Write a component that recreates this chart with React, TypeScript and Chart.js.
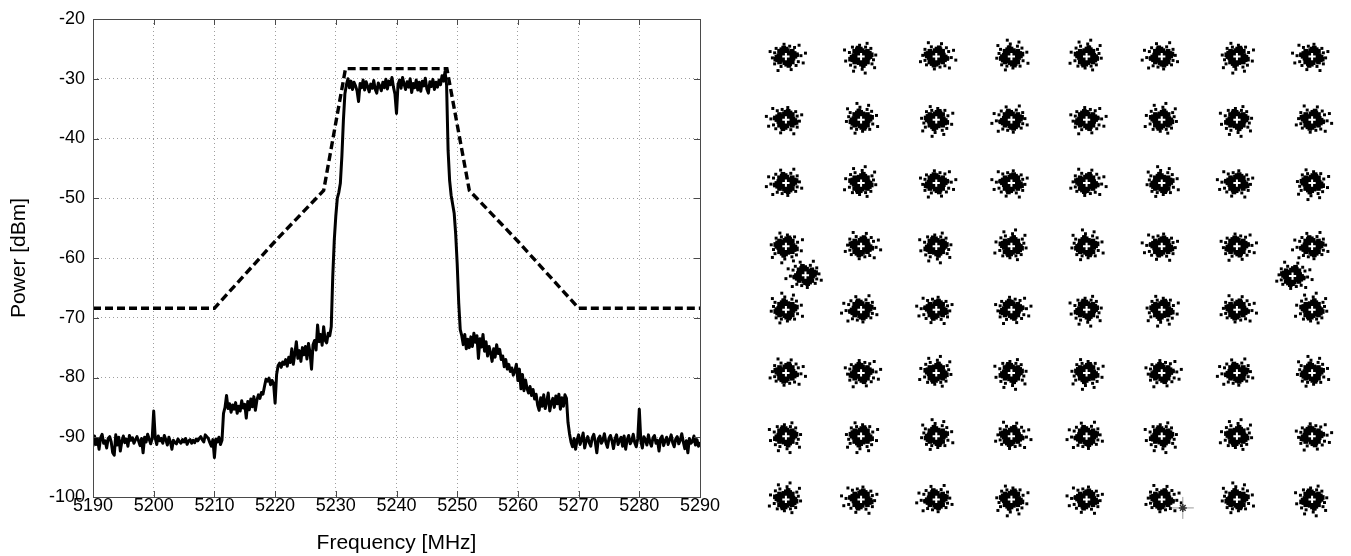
import React, { useEffect, useRef } from "react";
import { Chart, registerables } from "chart.js";
Chart.register(...registerables);

// ---------- Spectrum panel data ----------
const FREQ_START = 5190;
const FREQ_STEP = 0.25;
const POWER: number[] = [
  -91.5,-89.8,-91.2,-90.3,-92.0,-90.1,-89.5,-91.0,-90.6,-91.8,
  -90.2,-89.9,-90.8,-92.6,-93.0,-89.6,-91.3,-90.0,-92.3,-90.7,
  -89.8,-90.9,-90.3,-91.5,-89.7,-90.5,-90.1,-91.0,-90.4,-89.9,
  -90.6,-91.4,-90.2,-92.6,-90.0,-90.8,-89.5,-90.3,-91.1,-90.2,
  -85.6,-90.1,-91.2,-89.8,-90.6,-90.2,-91.0,-89.7,-90.4,-91.3,
  -90.0,-90.8,-92.0,-90.5,-90.9,-91.1,-90.3,-90.7,-91.0,-90.4,
  -90.8,-90.2,-91.2,-90.6,-90.4,-91.0,-90.5,-90.9,-90.3,-90.6,
  -90.2,-89.9,-90.4,-90.8,-89.6,-89.9,-90.2,-90.9,-91.5,-90.4,
  -93.4,-90.3,-90.8,-90.0,-91.2,-90.5,-86.0,-85.0,-83.0,-85.2,
  -84.4,-85.8,-84.6,-85.3,-84.2,-86.0,-84.8,-85.6,-83.9,-85.1,
  -84.5,-86.8,-84.0,-85.4,-83.6,-84.9,-83.2,-85.5,-83.8,-82.9,
  -83.5,-82.5,-82.8,-81.5,-80.3,-80.6,-80.1,-81.2,-80.5,-81.0,
  -84.3,-79.5,-78.0,-77.6,-78.3,-77.4,-77.8,-77.0,-78.1,-76.6,
  -77.5,-75.2,-77.8,-76.0,-74.0,-76.8,-75.5,-77.3,-75.0,-76.2,
  -74.8,-76.9,-74.3,-75.8,-78.6,-74.5,-73.8,-75.4,-71.2,-74.0,
  -72.8,-74.6,-71.5,-73.8,-74.2,-72.6,-73.0,-71.5,-63.0,-57.0,
  -53.0,-50.0,-49.0,-47.5,-43.0,-37.0,-32.5,-31.0,-30.0,-31.5,
  -30.4,-31.8,-30.6,-31.2,-32.0,-33.8,-30.8,-31.5,-30.2,-31.9,
  -30.5,-31.3,-32.2,-30.9,-31.6,-30.3,-31.8,-32.4,-30.7,-31.2,
  -32.0,-30.6,-31.5,-30.1,-31.7,-30.4,-31.0,-29.8,-31.4,-32.6,
  -35.8,-31.0,-30.2,-31.6,-29.8,-30.9,-31.8,-30.5,-31.4,-30.0,
  -32.3,-30.8,-31.5,-30.2,-31.9,-30.6,-32.1,-30.4,-31.2,-29.9,
  -31.7,-32.4,-30.5,-31.3,-30.1,-31.8,-30.6,-31.4,-30.2,-31.0,
  -29.5,-30.4,-28.8,-31.0,-42.0,-47.0,-49.5,-51.0,-52.5,-56.0,
  -61.0,-67.5,-72.0,-73.0,-74.5,-72.8,-75.2,-73.6,-75.0,-73.2,
  -74.8,-72.6,-74.1,-73.0,-76.8,-73.5,-74.9,-72.8,-75.6,-74.0,
  -76.4,-74.8,-75.9,-77.3,-75.2,-76.6,-74.5,-76.0,-75.3,-77.0,
  -76.4,-78.2,-77.0,-78.6,-77.8,-79.0,-78.4,-79.6,-78.9,-77.8,
  -80.5,-78.6,-81.9,-79.5,-82.2,-80.4,-81.8,-82.6,-81.5,-83.0,
  -82.0,-83.6,-82.8,-84.6,-85.5,-83.4,-84.8,-82.9,-85.2,-84.0,
  -82.6,-85.6,-84.2,-83.5,-85.0,-83.1,-84.4,-82.8,-85.3,-83.4,
  -84.8,-82.9,-83.5,-87.5,-89.4,-90.8,-91.6,-90.2,-92.0,-90.5,
  -89.6,-91.2,-90.4,-89.3,-91.8,-90.6,-89.9,-90.9,-91.5,-90.1,
  -89.5,-90.8,-92.6,-90.3,-89.8,-91.0,-90.5,-89.4,-90.9,-91.7,
  -90.2,-89.7,-90.6,-91.9,-90.3,-89.6,-91.2,-90.5,-90.0,-91.5,
  -89.8,-92.0,-90.4,-89.7,-91.1,-90.6,-89.5,-90.9,-91.6,-90.2,
  -85.3,-90.6,-91.8,-89.9,-90.4,-91.3,-89.6,-90.8,-91.5,-90.1,
  -89.7,-91.0,-90.5,-92.3,-90.2,-89.8,-91.4,-90.6,-90.0,-91.2,
  -90.4,-89.6,-90.9,-91.6,-90.3,-89.9,-91.1,-90.5,-89.4,-90.8,
  -91.9,-90.6,-92.6,-90.2,-91.0,-90.7,-89.8,-91.3,-90.4,-91.5,
  -90.8,
];
const MASK_FREQ = [5190, 5210, 5220, 5228, 5231.6, 5248.3, 5252, 5260, 5270, 5290];
const MASK_POWER = [-68.4, -68.4, -57.2, -48.7, -28.3, -28.3, -48.7, -57.2, -68.4, -68.4];
const X_TICKS = [5190, 5200, 5210, 5220, 5230, 5240, 5250, 5260, 5270, 5280, 5290];
const Y_TICKS = [-100, -90, -80, -70, -60, -50, -40, -30, -20];
const X_TITLE = "Frequency [MHz]";
const Y_TITLE = "Power [dBm]";

// ---------- Constellation panel data ----------
const I_LEVELS = [-7, -5, -3, -1, 1, 3, 5, 7];
const Q_LEVELS = [7, 5, 3, 1, -1, -3, -5, -7];
const EXTRA_CENTERS: [number, number][] = [[-6.48, 0.09], [6.48, 0.06]];
const EXTRA_VARIANT = [2, 5];
const MARKER: [number, number][] = [[3.56, -7.27]];
// noise offsets (hundredths of a constellation unit)
const CORE: [number, number][] = [
  [0,0],
  [7,0],[-7,1],[1,7],[-1,-7],[5,5],[-5,5],[5,-5],[-5,-5],
  [13,2],[-13,-2],[2,13],[-2,-13],[10,9],[-9,10],[9,-10],[-10,-9],
  [19,4],[-19,3],[4,19],[-3,-19],[15,12],[-14,13],[13,-14],[-15,-12],[19,-5],[-18,-6],[-6,18],[7,-18],
  [24,1],[-24,-2],[0,24],[2,-24],[17,17],[-17,17],[17,-17],[-17,-17],[22,10],[-11,22],[-22,-10],[10,-22],
  [28,6],[-27,-8],[8,-28],[-6,27],
];
const OUTLIERS: [number, number][] = [
  [31,5],[-30,12],[10,33],[-13,-31],[33,-16],[-36,-4],[23,29],[-26,26],[27,-28],
  [-30,-23],[40,3],[-42,16],[14,-41],[-5,39],[46,-20],[35,36],[-21,-44],[52,11],
];
const VARIANT = [
  [0, 3, 5, 1, 6, 2, 7, 4],
  [4, 1, 7, 2, 0, 6, 3, 5],
  [2, 6, 0, 4, 5, 1, 4, 7],
  [7, 5, 3, 6, 1, 4, 0, 2],
  [1, 2, 4, 0, 3, 7, 5, 6],
  [5, 0, 6, 3, 7, 0, 2, 1],
  [3, 7, 1, 5, 2, 3, 6, 0],
  [6, 4, 2, 7, 4, 5, 1, 3],
];

function transform(v: number, dx: number, dy: number): [number, number] {
  switch (v) {
    case 1: return [-dy, dx];
    case 2: return [-dx, -dy];
    case 3: return [dy, -dx];
    case 4: return [-dx, dy];
    case 5: return [dx, -dy];
    case 6: return [dy, dx];
    case 7: return [-dy, -dx];
    default: return [dx, dy];
  }
}

const FONT = "'Liberation Sans', Arial, Helvetica, sans-serif";

const boxPlugin = {
  id: "matlabBox",
  afterDraw(chart: any) {
    const { ctx, chartArea: a, scales } = chart;
    ctx.save();
    ctx.strokeStyle = "#4a4a4a";
    ctx.lineWidth = 1;
    ctx.strokeRect(a.left + 0.5, a.top + 0.5, a.right - a.left, a.bottom - a.top);
    ctx.beginPath();
    X_TICKS.forEach((v) => {
      const x = Math.round(scales.x.getPixelForValue(v)) + 0.5;
      ctx.moveTo(x, a.bottom); ctx.lineTo(x, a.bottom - 6);
      ctx.moveTo(x, a.top); ctx.lineTo(x, a.top + 6);
    });
    Y_TICKS.forEach((v) => {
      const y = Math.round(scales.y.getPixelForValue(v)) + 0.5;
      ctx.moveTo(a.left, y); ctx.lineTo(a.left + 6, y);
      ctx.moveTo(a.right, y); ctx.lineTo(a.right - 6, y);
    });
    ctx.stroke();
    ctx.restore();
  },
};

export default function App() {
  const specRef = useRef<HTMLCanvasElement>(null);
  const constRef = useRef<HTMLCanvasElement>(null);

  useEffect(() => {
    Chart.defaults.font.family = FONT;
    const spectrum = POWER.map((p, i) => ({ x: FREQ_START + i * FREQ_STEP, y: p }));
    const mask = MASK_FREQ.map((f, i) => ({ x: f, y: MASK_POWER[i] }));

    const c1 = new Chart(specRef.current!, {
      type: "line",
      data: {
        datasets: [
          {
            data: mask,
            borderColor: "#000",
            borderWidth: 3.4,
            borderDash: [8, 4],
            pointRadius: 0,
            tension: 0,
            fill: false,
          },
          {
            data: spectrum,
            borderColor: "#000",
            borderWidth: 3,
            borderJoinStyle: "round",
            pointRadius: 0,
            tension: 0,
            fill: false,
          },
        ],
      },
      options: {
        animation: false,
        responsive: false,
        events: [],
        layout: { padding: { left: 0, top: 19, right: 30, bottom: 0 } },
        plugins: { legend: { display: false }, tooltip: { enabled: false } },
        scales: {
          x: {
            type: "linear",
            min: 5190,
            max: 5290,
            afterFit: (s: any) => { s.height = 59; },
            afterBuildTicks: (s: any) => { s.ticks = X_TICKS.map((v) => ({ value: v })); },
            ticks: {
              autoSkip: false,
              maxRotation: 0,
              padding: 0,
              color: "#000",
              font: { size: 18, lineHeight: 1 },
              callback: (v: any) => String(v),
            },
            grid: { color: "rgba(0,0,0,0.38)", lineWidth: 1, drawTicks: false },
            border: { display: false, dash: [1, 3] },
            title: {
              display: true,
              text: X_TITLE,
              color: "#000",
              font: { size: 21 },
              padding: { top: 0, bottom: 0 },
            },
          },
          y: {
            type: "linear",
            min: -100,
            max: -20,
            afterFit: (s: any) => { s.width = 93; },
            afterBuildTicks: (s: any) => { s.ticks = Y_TICKS.map((v) => ({ value: v })); },
            ticks: {
              padding: 8,
              color: "#000",
              font: { size: 18 },
              callback: (v: any) => String(v),
            },
            grid: { color: "rgba(0,0,0,0.38)", lineWidth: 1, drawTicks: false },
            border: { display: false, dash: [1, 3] },
            title: {
              display: true,
              text: Y_TITLE,
              color: "#000",
              font: { size: 21 },
              padding: { top: 7, bottom: 0 },
            },
          },
        },
      },
      plugins: [boxPlugin],
    });

    // constellation
    const centers: { x: number; y: number; v: number }[] = [];
    Q_LEVELS.forEach((q, r) => I_LEVELS.forEach((ii, c) => centers.push({ x: ii, y: q, v: VARIANT[r][c] })));
    EXTRA_CENTERS.forEach(([x, y], k) => centers.push({ x, y, v: EXTRA_VARIANT[k] }));

    const corePts: { x: number; y: number }[] = [];
    const outPts: { x: number; y: number }[] = [];
    centers.forEach((c) => {
      CORE.forEach(([dx, dy]) => {
        const [tx, ty] = transform(c.v, dx, dy);
        corePts.push({ x: c.x + tx / 100, y: c.y + ty / 100 });
      });
      OUTLIERS.forEach(([dx, dy]) => {
        const [tx, ty] = transform(c.v, dx, dy);
        outPts.push({ x: c.x + tx / 100, y: c.y + ty / 100 });
      });
    });
    const centerPts = centers.map((c) => ({ x: c.x, y: c.y }));
    const markerPts = MARKER.map(([x, y]) => ({ x, y }));

    const c2 = new Chart(constRef.current!, {
      type: "scatter",
      data: {
        datasets: [
          {
            data: centerPts,
            pointStyle: "cross",
            pointRadius: 3.6,
            borderColor: "#fff",
            backgroundColor: "#fff",
            borderWidth: 2,
          },
          {
            data: markerPts,
            pointStyle: "star",
            pointRadius: 4,
            borderColor: "#333",
            backgroundColor: "#333",
            borderWidth: 1.5,
          },
          {
            data: markerPts,
            pointStyle: "cross",
            pointRadius: 11,
            borderColor: "#9a9a9a",
            backgroundColor: "#9a9a9a",
            borderWidth: 1,
          },
          {
            data: corePts,
            pointStyle: "rect",
            pointRadius: 3.3,
            backgroundColor: "#000",
            borderWidth: 0,
          },
          {
            data: outPts,
            pointStyle: "rect",
            pointRadius: 2.1,
            backgroundColor: "#000",
            borderWidth: 0,
          },
        ],
      },
      options: {
        animation: false,
        responsive: false,
        events: [],
        layout: { padding: 0 },
        plugins: { legend: { display: false }, tooltip: { enabled: false } },
        scales: {
          x: { type: "linear", min: -7.716, max: 7.716, display: false },
          y: { type: "linear", min: -8.411, max: 8.411, display: false },
        },
      },
    });

    return () => {
      c1.destroy();
      c2.destroy();
    };
  }, []);

  return (
    <div style={{ position: "fixed", left: 0, top: 0, width: 1351, height: 556, background: "#fff", overflow: "hidden" }}>
      <canvas ref={specRef} width={730} height={556} style={{ position: "absolute", left: 0, top: 0, width: 730, height: 556 }} />
      <canvas ref={constRef} width={604} height={556} style={{ position: "absolute", left: 747, top: 0, width: 604, height: 556 }} />
    </div>
  );
}
